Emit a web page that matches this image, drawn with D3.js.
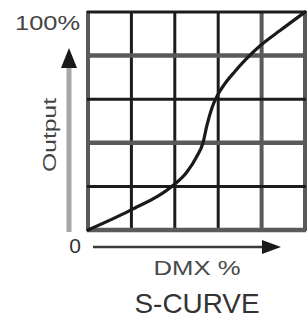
<!DOCTYPE html>
<html><head><meta charset="utf-8">
<script src="https://cdn.jsdelivr.net/npm/d3@7"></script>
<style>html,body{margin:0;padding:0;background:#fff;}svg{display:block;}</style>
</head><body>
<script>
const dmx    = [0, 19.4, 38.0, 45.5, 50.0, 53.0, 54.8, 57.1, 59.5, 63.0, 67.5, 72.5, 79.3, 88.5, 100];
const output = [0, 9.0, 19.5, 26.5, 33.5, 40.0, 48.0, 56.0, 61.5, 67.0, 72.5, 78.0, 84.5, 91.5, 100];
const gridTicks = [0, 20, 40, 60, 80, 100];
const yTopLabel = "100%";
const yZeroLabel = "0";
const xTitle = "DMX %";
const yTitle = "Output";
const chartTitle = "S-CURVE";

const W = 307, H = 318;
const svg = d3.select("body").append("svg").attr("width", W).attr("height", H);
const x = d3.scaleLinear().domain([0, 100]).range([88, 305]);
const y = d3.scaleLinear().domain([0, 100]).range([230, 12]);

const vGray = new Set([0, 80, 100]);
const hGray = new Set([0, 40, 80]);
svg.append("g").selectAll("line").data(gridTicks).join("line")
  .attr("x1", d => x(d)).attr("x2", d => x(d))
  .attr("y1", y(0) + 1).attr("y2", y(100) - 1)
  .attr("stroke", d => vGray.has(d) ? "#5a5a5a" : "#1c1c1c")
  .attr("stroke-width", d => vGray.has(d) ? 4 : 3);
svg.append("g").selectAll("line").data(gridTicks).join("line")
  .attr("y1", d => y(d)).attr("y2", d => y(d))
  .attr("x1", x(0) - 1).attr("x2", x(100) + 1)
  .attr("stroke", d => hGray.has(d) ? "#5a5a5a" : "#1c1c1c")
  .attr("stroke-width", d => hGray.has(d) ? 4.5 : 3);

const pts = dmx.map((d, i) => [d, output[i]]);
svg.append("path").datum(pts)
  .attr("fill", "none").attr("stroke", "#1a1a1a").attr("stroke-width", 3.2)
  .attr("stroke-linecap", "round")
  .attr("d", d3.line().x(d => x(d[0])).y(d => y(d[1])).curve(d3.curveMonotoneX));

svg.append("line").attr("x1", 69).attr("x2", 69).attr("y1", 232).attr("y2", 64)
  .attr("stroke", "#a8a8a8").attr("stroke-width", 5);
svg.append("path").attr("d", "M69,48 L61,68 L77,68 Z").attr("fill", "#1a1a1a");

svg.append("line").attr("x1", 93).attr("x2", 266).attr("y1", 247).attr("y2", 247)
  .attr("stroke", "#3a3a3a").attr("stroke-width", 2.5);
svg.append("path").attr("d", "M281,247 L262,240 L262,254 Z").attr("fill", "#1a1a1a");

const font = "'Liberation Sans', Arial, sans-serif";
svg.append("text").attr("x", 15).attr("y", 30).attr("font-family", font)
  .attr("font-size", 20).attr("fill", "#444").attr("textLength", 65)
  .attr("lengthAdjust", "spacingAndGlyphs").text(yTopLabel);
svg.append("text").attr("x", 75).attr("y", 253).attr("text-anchor", "middle").attr("font-family", font)
  .attr("font-size", 21).attr("fill", "#333").text(yZeroLabel);
svg.append("text").attr("transform", "translate(56,135) rotate(-90)").attr("text-anchor", "middle")
  .attr("font-family", font).attr("font-size", 19).attr("fill", "#444")
  .attr("textLength", 74).attr("lengthAdjust", "spacingAndGlyphs").text(yTitle);
svg.append("text").attr("x", 197).attr("y", 275).attr("text-anchor", "middle").attr("font-family", font)
  .attr("font-size", 21).attr("fill", "#4a4a4a").attr("textLength", 87)
  .attr("lengthAdjust", "spacingAndGlyphs").text(xTitle);
svg.append("text").attr("x", 197).attr("y", 313).attr("text-anchor", "middle").attr("font-family", font)
  .attr("font-size", 28).attr("fill", "#333").attr("textLength", 125)
  .attr("lengthAdjust", "spacingAndGlyphs").text(chartTitle);
</script>
</body></html>
